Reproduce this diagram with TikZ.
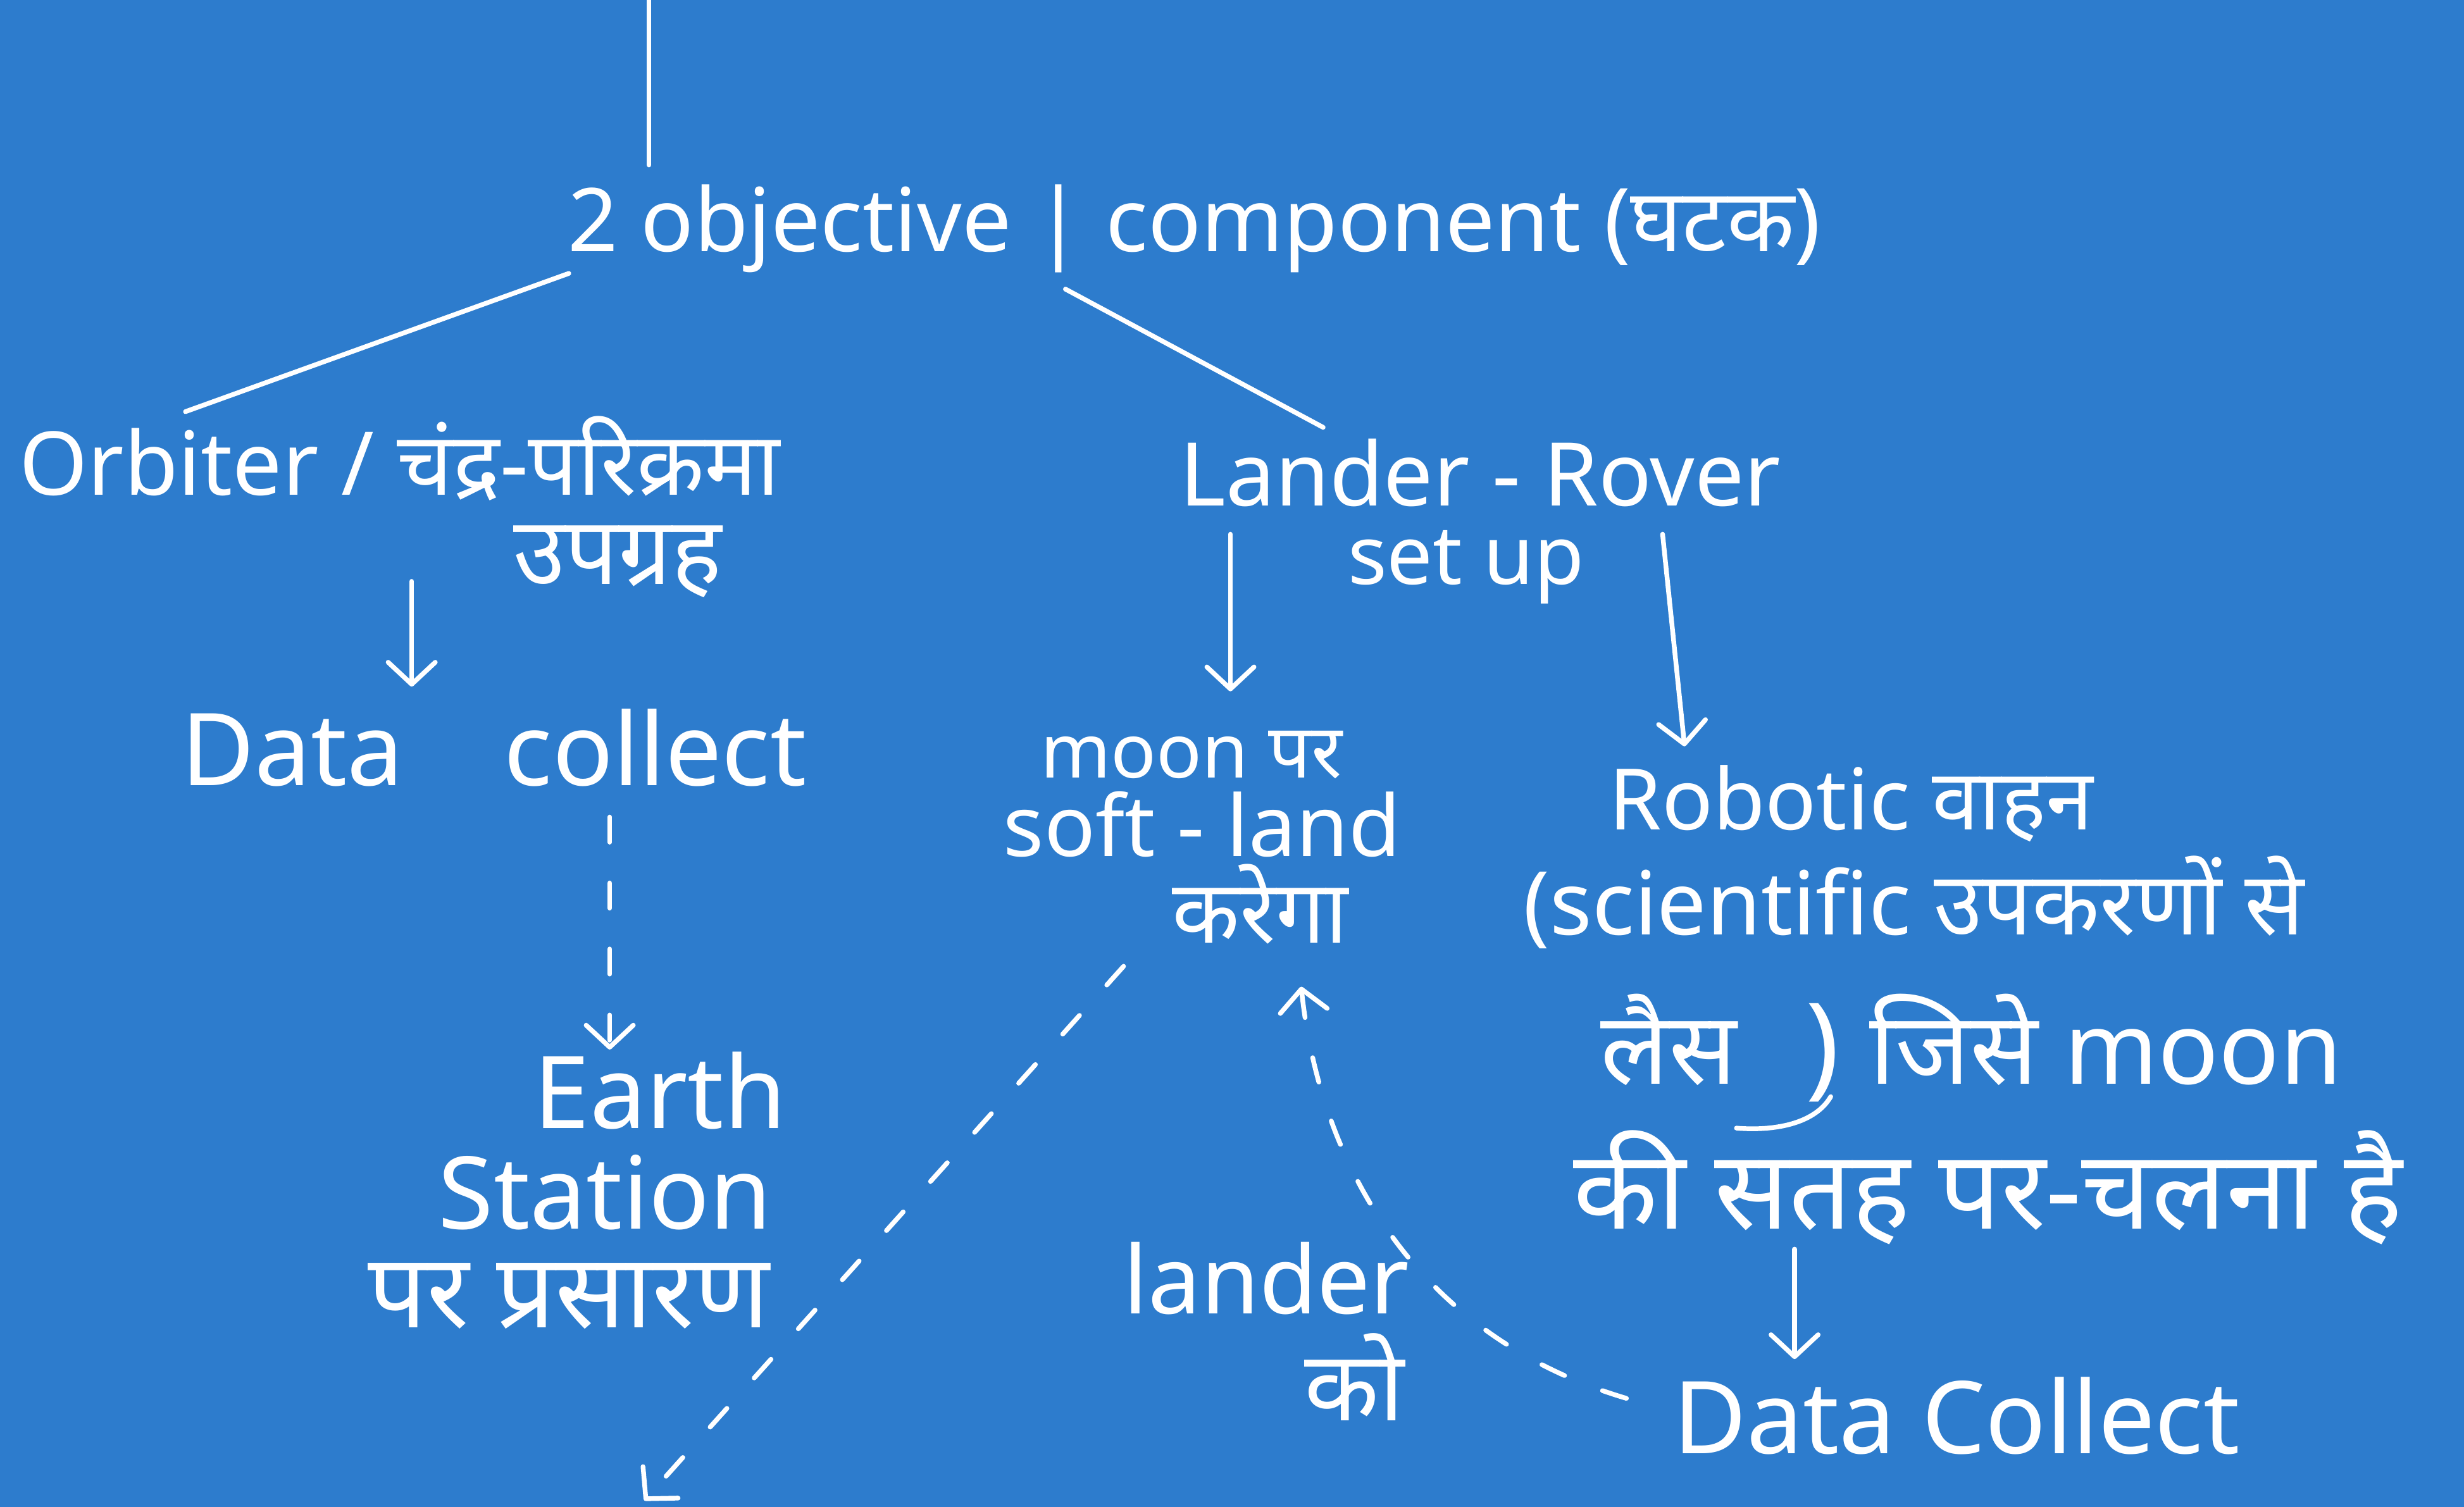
\documentclass[tikz,border=0pt]{standalone}
\usepackage{fontspec}
\setmainfont{Noto Sans}[Script=Devanagari]
\usetikzlibrary{arrows.meta,calc}
\definecolor{bg}{RGB}{45,124,205}
\newcommand{\fs}[1]{\fontsize{#1}{#1}\selectfont}
\begin{document}
\begin{tikzpicture}[x=1pt,y=-1pt,
  txt/.style={text=white,inner sep=0pt,anchor=base},
  conn/.style={draw=white,line width=3pt,line cap=round},
  arr/.style={conn,-{Straight Barb[length=14pt,width=30pt,line width=3pt,round]}},
  dsh/.style={dash pattern=on 16pt off 26pt}]
\fill[bg] (0,0) rectangle (1568,959);
\useasboundingbox (0,0) rectangle (1568,959);
% texts
\node[txt,font=\fs{56}] (title) at (760,160) {2 objective | component (घटक)};
\node[txt,font=\fs{56},anchor=base west,text depth=0pt] (orb1) at (12,315) {Orbiter / चंद्र-परिक्रमा};
\node[txt,font=\fs{60},text height=0.6em] (orb2) at (393,372) {उपग्रह};
\node[txt,font=\fs{64},anchor=base west] (data) at (115,500) {Data\hspace{1em}collect};
\node[txt,font=\fs{64},text depth=0pt] (earth1) at (420,718) {Earth};
\node[txt,font=\fs{64},text depth=0pt,text height=0.72em] (earth2) at (385,782) {Station};
\node[txt,font=\fs{66},text height=0.6em] (earth3) at (362,845) {पर प्रसारण};
\node[txt,font=\fs{56},text depth=0pt] (lr1) at (942,322) {Lander - Rover};
\node[txt,font=\fs{52},text height=0.55em] (lr2) at (933,372) {set up};
\node[txt,font=\fs{48},text depth=0pt] (moon1) at (758,495) {moon पर};
\node[txt,font=\fs{54},text depth=0pt,text height=0.72em] (moon2) at (765,545) {soft - land};
\node[txt,font=\fs{56},text height=0.6em] (moon3) at (802,600) {करेगा};
\node[txt,font=\fs{54},text depth=0pt] (rob1) at (1178,528) {Robotic वाहन};
\node[txt,font=\fs{56},text height=0.75em] (rob2) at (1218,595) {(scientific उपकरणों से};
\node[txt,font=\fs{64}] (rob3a) at (1062,690) {लैस};
\node[txt,font=\fs{72}] (rob3b) at (1160,690) {)};
\node[txt,font=\fs{64}] (rob3c) at (1340,690) {जिसे moon};
\node[txt,font=\fs{70},text height=0.6em] (rob4) at (1265,782) {की सतह पर-चलना है};
\node[txt,font=\fs{64}] (dc) at (1245,925) {Data Collect};
\node[txt,font=\fs{60},text depth=0pt] (ld1) at (806,836) {lander};
\node[txt,font=\fs{62},text height=0.6em] (ld2) at (862,904) {को};
% connectors
\coordinate (topend) at (413,0);
\draw[conn] (topend) -- ($(title.base)+(-347,-55)$);
\draw[conn] ($(title.base)+(-398,14)$) -- ($(orb1.base west)+(106,-53)$);
\draw[conn] ($(title.base)+(-82,24)$) -- ($(lr1.base)+(-100,-50)$);
\draw[arr] ($(orb1.base west)+(250,55)$) -- ($(data.base west)+(147,-63)$);
\draw[arr,dsh] ($(data.base west)+(273,20)$) -- ($(earth1.base)+(-32,-50)$);
\draw[arr] ($(lr2.base)+(-150,-32)$) -- ($(moon1.base)+(25,-55)$);
\draw[arr] ($(lr2.base)+(125,-32)$) -- ($(rob1.base)+(-106,-53)$);
\draw[arr] ($(rob4.base)+(-123,13)$) -- ($(dc.base)+(-103,-60)$);
\coordinate (swend) at (410,955);
\draw[arr,dsh] ($(moon3.base)+(-87,15)$) -- (swend);
\draw[arr,dsh] ($(dc.base)+(-210,-35)$) .. controls (900,850) and (840,740) .. ($(moon3.base)+(26,28)$);
\draw[conn] ($(rob3b.base)+(5,8)$) .. controls ($(rob3b.base)+(-5,25)$) and ($(rob3b.base)+(-30,30)$) .. ($(rob3b.base)+(-55,28)$);
\end{tikzpicture}
\end{document}
